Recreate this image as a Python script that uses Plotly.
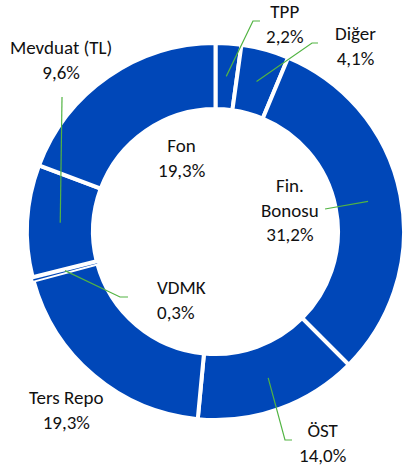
import math
import plotly.graph_objects as go

# portfolio breakdown, clockwise from 12 o'clock
labels = ["TPP", "Diğer", "Fin. Bonosu", "ÖST", "Ters Repo", "VDMK", "Mevduat (TL)", "Fon"]
values = [2.2, 4.1, 31.2, 14.0, 19.3, 0.3, 9.6, 19.3]
label_lines = ["TPP", "Diğer", "Fin.<br>Bonosu", "ÖST", "Ters Repo", "VDMK", "Mevduat (TL)", "Fon"]

W, H = 404, 468
BLUE = "#0047b8"
GREEN = "#52b443"
FONT = "Carlito, Lato, 'Open Sans', sans-serif"

# ring geometry in pixels
cx, cy = 215.5, 231.5
stroke = 4
R = 186.5 + stroke / 2
hole = (124.5 - stroke / 2) / R
r_mid = 155.5

# label placement (pixel centre of text block) and leader-line tail points
label_pos = {
    "TPP": (285, 24),
    "Diğer": (355, 46),
    "Fin. Bonosu": (290, 210),
    "ÖST": (322, 443),
    "Ters Repo": (66, 410),
    "VDMK": (155, 300),
    "Mevduat (TL)": (61, 60),
    "Fon": (181, 158),
}
leader_tail = {
    "TPP": [(253, 21), (260, 21)],
    "Diğer": [(312, 43), (318, 43)],
    "Fin. Bonosu": [(325, 209)],
    "ÖST": [(285, 440), (292, 440)],
    "VDMK": [(120, 297), (128, 297)],
    "Mevduat (TL)": [(62, 97)],
}


def px(x, y):
    return x / W, 1 - y / H


line_widths = [0 if l == "VDMK" else stroke for l in labels]

fig = go.Figure(go.Pie(
    labels=labels,
    values=values,
    sort=False,
    direction="clockwise",
    rotation=0,
    hole=hole,
    textinfo="none",
    hoverinfo="label+percent",
    marker=dict(colors=[BLUE] * len(values), line=dict(color="white", width=line_widths)),
    domain=dict(x=[(cx - R) / W, min(1, (cx + R) / W)],
                y=[(H - cy - R) / H, (H - cy + R) / H]),
    showlegend=False,
))

total = sum(values)
cum = 0
shapes = []
annotations = []
for name, v, txt in zip(labels, values, label_lines):
    theta = 2 * math.pi * (cum + v / 2) / total
    cum += v
    pct = "{:.1f}".format(v).replace(".", ",") + "%"
    lx, ly = label_pos[name]
    ax, ay = px(lx, ly)
    annotations.append(dict(
        x=ax, y=ay, xref="paper", yref="paper",
        text=txt + "<br>" + pct, showarrow=False,
        xanchor="left" if name == "VDMK" else "center", yanchor="middle",
        align="left" if name == "VDMK" else "center",
        font=dict(family=FONT, size=19, color="#111111"),
    ))
    if name in leader_tail:
        pts = [(cx + r_mid * math.sin(theta), cy - r_mid * math.cos(theta))] + leader_tail[name]
        pts = [px(*p) for p in pts]
        path = "M " + " L ".join("{:.4f},{:.4f}".format(x, y) for x, y in pts)
        shapes.append(dict(type="path", path=path, xref="paper", yref="paper",
                           line=dict(color=GREEN, width=1.2)))

fig.update_layout(
    width=W, height=H,
    margin=dict(l=0, r=0, t=0, b=0),
    paper_bgcolor="white",
    plot_bgcolor="white",
    annotations=annotations,
    shapes=shapes,
)

# page body has an 8px default margin, drop it so the figure fills the window
fig.write_html("out.html", config={"displayModeBar": False},
               post_script="document.body.style.margin='0';")
